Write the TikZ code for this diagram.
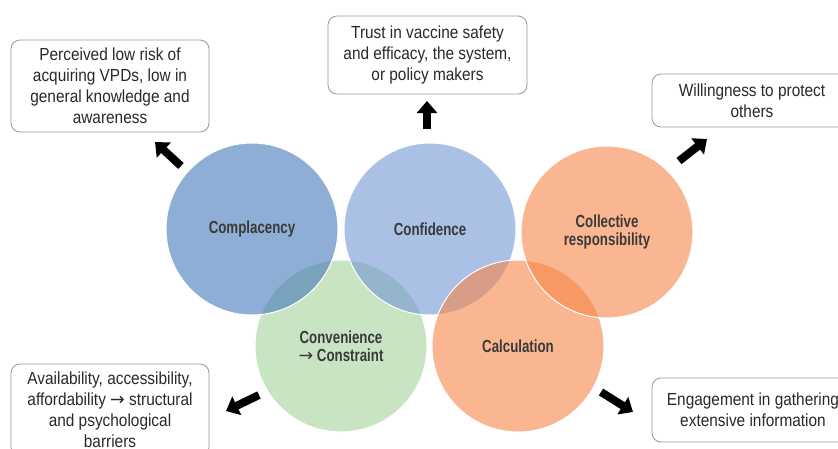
\documentclass[tikz,border=0pt]{standalone}
\usepackage{fontspec}
\setmainfont{Liberation Sans}[FakeStretch=0.88]
\newfontfamily\labelfont{Liberation Sans}[FakeStretch=0.76]
\newfontfamily\arrowfont{DejaVu Sans}
\usetikzlibrary{arrows.meta}
\definecolor{cmpblue}{RGB}{68,120,185}
\definecolor{cnfblue}{RGB}{113,150,210}
\definecolor{vacorange}{RGB}{247,134,72}
\definecolor{vacgreen}{RGB}{165,210,155}
\definecolor{labelgray}{RGB}{58,58,58}
\definecolor{textgray}{RGB}{40,40,40}
\definecolor{boxgray}{RGB}{150,150,150}
\newcommand{\toarrow}{{\arrowfont\mdseries →}}
\begin{document}
\begin{tikzpicture}
[
x=1pt, y=-1pt,
venncircle/.style={circle, draw=white, line width=1pt, fill opacity=0.6, text opacity=1, minimum size=172pt, inner sep=0pt, align=center, text=labelgray, font=\labelfont\bfseries\fontsize{17.5}{18}\selectfont},
infobox/.style={draw=boxgray, rounded corners=9pt, line width=0.8pt, align=center, inner sep=0pt, text=textgray, font=\fontsize{17.5}{21}\selectfont},
bigarrow/.style={line width=8pt, -{Triangle[length=12pt,width=20pt]}}
]
\useasboundingbox (0,0) rectangle (838,448);
\clip (0,0) rectangle (838,448);
%Circles
\node[venncircle, fill=vacgreen] at(341,346)		(cnv) {Convenience\\\toarrow\ Constraint};
\node[venncircle, fill=cmpblue] at(252,229)		(cmp) {Complacency};
\node[venncircle, fill=cnfblue] at(430,229)		(cnf) {Confidence};
\node[venncircle, fill=vacorange] at(518,346)		(clc) {Calculation};
\node[venncircle, fill=vacorange] at(607,232)		(col) {Collective\\responsibility};
%Boxes
\node[infobox, minimum width=198pt, minimum height=92pt] at(110,86)		(b1) {Perceived low risk of\\acquiring VPDs, low in\\general knowledge and\\awareness};
\node[infobox, minimum width=199pt, minimum height=78pt] at(427.5,55)		(b2) {Trust in vaccine safety\\and efficacy, the system,\\or policy makers};
\node[infobox, minimum width=200pt, minimum height=53pt] at(752,100.5)		(b3) {Willingness to protect\\others};
\node[infobox, minimum width=198pt, minimum height=92pt] at(110,410)		(b4) {Availability, accessibility,\\affordability \toarrow\ structural\\and psychological\\barriers};
\node[infobox, minimum width=202pt, minimum height=64pt] at(753,410)		(b5) {Engagement in gathering\\extensive information};
%Arrows
\coordinate (a1s) at(181,166);	\coordinate (a1e) at(155,142);
\coordinate (a2s) at(427,129);	\coordinate (a2e) at(427,101);
\coordinate (a3s) at(679,161);	\coordinate (a3e) at(707,139);
\coordinate (a4s) at(259,395);	\coordinate (a4e) at(226,411);
\coordinate (a5s) at(601,392);	\coordinate (a5e) at(633,412);
\draw[bigarrow] (a1s) -- (a1e);
\draw[bigarrow] (a2s) -- (a2e);
\draw[bigarrow] (a3s) -- (a3e);
\draw[bigarrow] (a4s) -- (a4e);
\draw[bigarrow] (a5s) -- (a5e);
\end{tikzpicture}
\end{document}
